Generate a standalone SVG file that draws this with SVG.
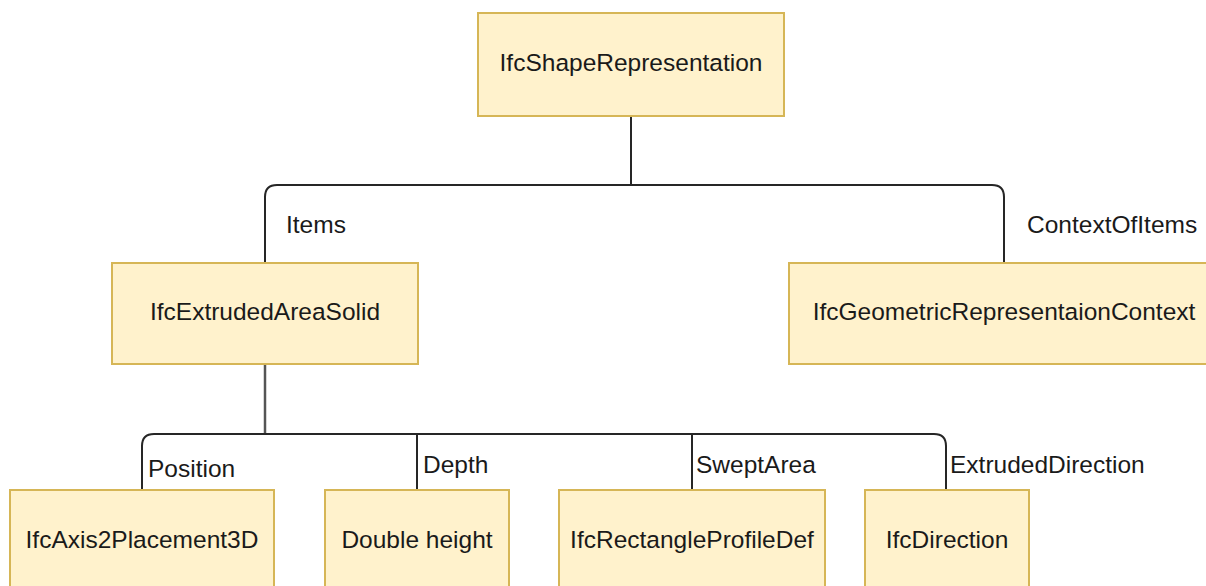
<svg xmlns="http://www.w3.org/2000/svg" width="1206" height="586" viewBox="0 0 1206 586">
  <style>
    .node rect { fill: #fff2cc; stroke: #d6b656; stroke-width: 2; }
    .node text { font-family: "Liberation Sans", Arial, sans-serif; font-size: 24.5px; fill: #1a1a1a; text-anchor: middle; dominant-baseline: central; }
    .edges path { fill: none; stroke: #262626; stroke-width: 2; }
    .edges .trunk { stroke: #555555; stroke-width: 2.5; }
    .edges text { font-family: "Liberation Sans", Arial, sans-serif; font-size: 24.5px; fill: #1a1a1a; stroke: none; }
  </style>
  <rect width="1206" height="586" fill="#ffffff"/>

  <g class="edges" id="connectors">
    <!-- IfcShapeRepresentation to its attributes -->
    <path d="M631 116 V185"/>
    <path d="M265 263 V197 Q265 185 277 185 H992 Q1004 185 1004 197 V263"/>
    <text x="286" y="233">Items</text>
    <text x="1027" y="233">ContextOfItems</text>
    <!-- IfcExtrudedAreaSolid to its attributes -->
    <path class="trunk" d="M265 364 V434"/>
    <path d="M142 490 V446 Q142 434 154 434 H934 Q946 434 946 446 V490"/>
    <path d="M417 434 V490"/>
    <path d="M692 434 V490"/>
    <text x="148" y="477">Position</text>
    <text x="423" y="473">Depth</text>
    <text x="696" y="473">SweptArea</text>
    <text x="950" y="473">ExtrudedDirection</text>
  </g>

  <g class="node" id="shape-representation">
    <rect x="478" y="13" width="306" height="103"/>
    <text x="631" y="62">IfcShapeRepresentation</text>
  </g>
  <g class="node" id="extruded-area-solid">
    <rect x="112" y="263" width="306" height="101"/>
    <text x="265" y="311">IfcExtrudedAreaSolid</text>
  </g>
  <g class="node" id="geometric-context">
    <rect x="789" y="263" width="430" height="101"/>
    <text x="1004" y="311">IfcGeometricRepresentaionContext</text>
  </g>
  <g class="node" id="axis2placement3d">
    <rect x="10" y="490" width="264" height="110"/>
    <text x="142" y="539">IfcAxis2Placement3D</text>
  </g>
  <g class="node" id="double-height">
    <rect x="325" y="490" width="184" height="110"/>
    <text x="417" y="539">Double height</text>
  </g>
  <g class="node" id="rectangle-profile-def">
    <rect x="559" y="490" width="266" height="110"/>
    <text x="692" y="539">IfcRectangleProfileDef</text>
  </g>
  <g class="node" id="direction">
    <rect x="865" y="490" width="164" height="110"/>
    <text x="947" y="539">IfcDirection</text>
  </g>
</svg>
